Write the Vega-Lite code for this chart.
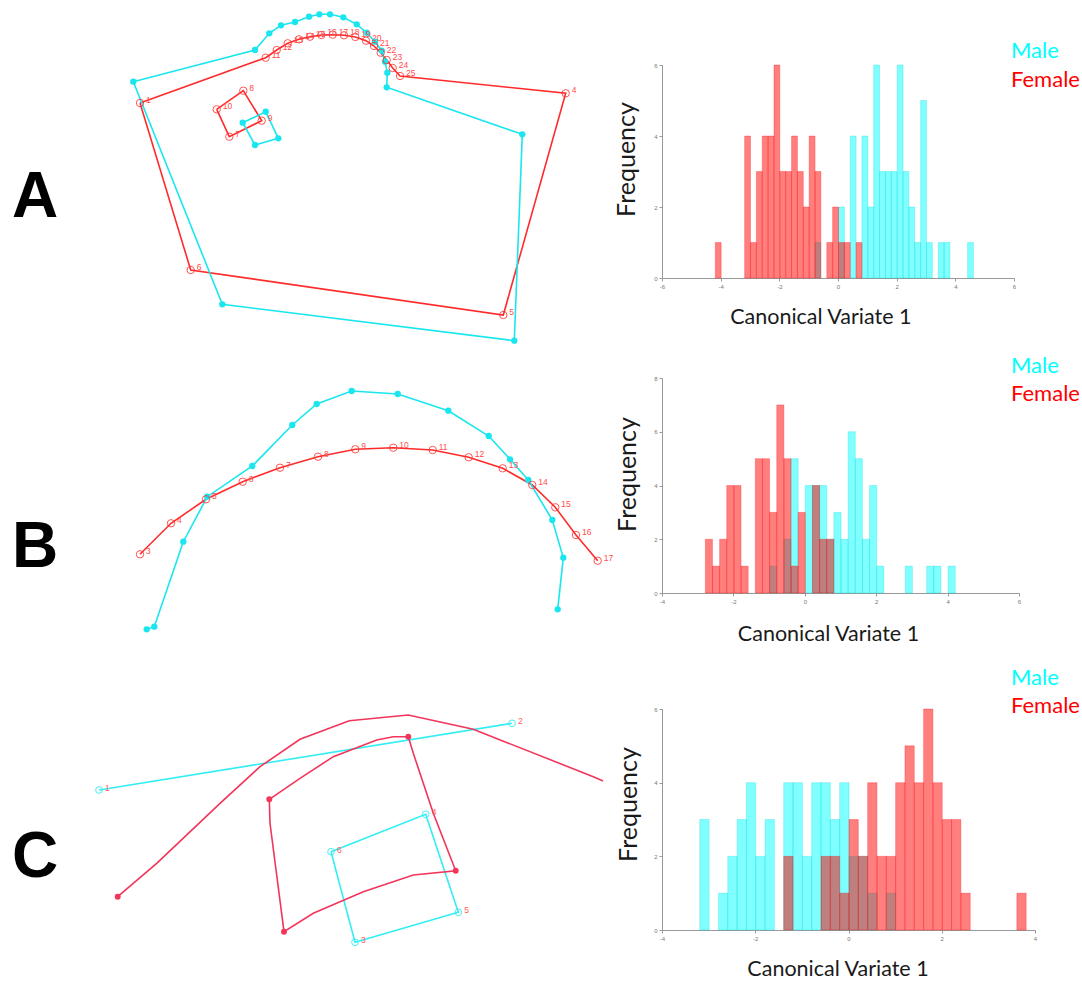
{
  "$schema": "https://vega.github.io/schema/vega-lite/v6.json",
  "background": "white",
  "padding": {"left": 0, "top": 11, "right": 0, "bottom": 0},
  "config": {"view": {"stroke": null}, "axis": {"labelFont": "Liberation Sans"}},
  "datasets": {
    "shapes": [
      {"p":"A","s":"Female","g":"Fo","o":1,"x":140,"y":103,"lm":true,"lab":"1"},
      {"p":"A","s":"Female","g":"Fo","o":2,"x":265.7,"y":57.7,"lm":true,"lab":"11"},
      {"p":"A","s":"Female","g":"Fo","o":3,"x":276.7,"y":50,"lm":true,"lab":"12"},
      {"p":"A","s":"Female","g":"Fo","o":4,"x":287.7,"y":43.3,"lm":true,"lab":"13"},
      {"p":"A","s":"Female","g":"Fo","o":5,"x":299,"y":39.3,"lm":true,"lab":"14"},
      {"p":"A","s":"Female","g":"Fo","o":6,"x":310,"y":36.7,"lm":true,"lab":"15"},
      {"p":"A","s":"Female","g":"Fo","o":7,"x":321.3,"y":35,"lm":true,"lab":"16"},
      {"p":"A","s":"Female","g":"Fo","o":8,"x":332.7,"y":34.7,"lm":true,"lab":"17"},
      {"p":"A","s":"Female","g":"Fo","o":9,"x":344,"y":35.3,"lm":true,"lab":"18"},
      {"p":"A","s":"Female","g":"Fo","o":10,"x":355.3,"y":37,"lm":true,"lab":"19"},
      {"p":"A","s":"Female","g":"Fo","o":11,"x":366,"y":40.7,"lm":true,"lab":"20"},
      {"p":"A","s":"Female","g":"Fo","o":12,"x":374,"y":46,"lm":true,"lab":"21"},
      {"p":"A","s":"Female","g":"Fo","o":13,"x":380.7,"y":52.7,"lm":true,"lab":"22"},
      {"p":"A","s":"Female","g":"Fo","o":14,"x":386.7,"y":60,"lm":true,"lab":"23"},
      {"p":"A","s":"Female","g":"Fo","o":15,"x":392.7,"y":68,"lm":true,"lab":"24"},
      {"p":"A","s":"Female","g":"Fo","o":16,"x":400,"y":76,"lm":true,"lab":"25"},
      {"p":"A","s":"Female","g":"Fo","o":17,"x":565.7,"y":93.3,"lm":true,"lab":"4"},
      {"p":"A","s":"Female","g":"Fo","o":18,"x":503.3,"y":315,"lm":true,"lab":"5"},
      {"p":"A","s":"Female","g":"Fo","o":19,"x":190.7,"y":270,"lm":true,"lab":"6"},
      {"p":"A","s":"Female","g":"Fo","o":20,"x":140,"y":103,"lm":false,"lab":null},
      {"p":"A","s":"Female","g":"Fi","o":1,"x":216.7,"y":109.3,"lm":true,"lab":"10"},
      {"p":"A","s":"Female","g":"Fi","o":2,"x":243.3,"y":90.7,"lm":true,"lab":"8"},
      {"p":"A","s":"Female","g":"Fi","o":3,"x":261.7,"y":120.7,"lm":true,"lab":"9"},
      {"p":"A","s":"Female","g":"Fi","o":4,"x":229.3,"y":136.7,"lm":true,"lab":"7"},
      {"p":"A","s":"Female","g":"Fi","o":5,"x":216.7,"y":109.3,"lm":false,"lab":null},
      {"p":"A","s":"Male","g":"Mo","o":1,"x":133.3,"y":81.7,"lm":true,"lab":null},
      {"p":"A","s":"Male","g":"Mo","o":2,"x":255,"y":50,"lm":true,"lab":null},
      {"p":"A","s":"Male","g":"Mo","o":3,"x":269.3,"y":33.3,"lm":true,"lab":null},
      {"p":"A","s":"Male","g":"Mo","o":4,"x":281,"y":25.3,"lm":true,"lab":null},
      {"p":"A","s":"Male","g":"Mo","o":5,"x":295,"y":22,"lm":true,"lab":null},
      {"p":"A","s":"Male","g":"Mo","o":6,"x":309,"y":16.7,"lm":true,"lab":null},
      {"p":"A","s":"Male","g":"Mo","o":7,"x":319.3,"y":14.3,"lm":true,"lab":null},
      {"p":"A","s":"Male","g":"Mo","o":8,"x":330,"y":14.3,"lm":true,"lab":null},
      {"p":"A","s":"Male","g":"Mo","o":9,"x":343.3,"y":17.3,"lm":true,"lab":null},
      {"p":"A","s":"Male","g":"Mo","o":10,"x":356.7,"y":24.3,"lm":true,"lab":null},
      {"p":"A","s":"Male","g":"Mo","o":11,"x":366.7,"y":32.7,"lm":true,"lab":null},
      {"p":"A","s":"Male","g":"Mo","o":12,"x":375,"y":41.7,"lm":true,"lab":null},
      {"p":"A","s":"Male","g":"Mo","o":13,"x":381.7,"y":50.7,"lm":true,"lab":null},
      {"p":"A","s":"Male","g":"Mo","o":14,"x":385,"y":61.7,"lm":true,"lab":null},
      {"p":"A","s":"Male","g":"Mo","o":15,"x":387.3,"y":72.7,"lm":true,"lab":null},
      {"p":"A","s":"Male","g":"Mo","o":16,"x":386.7,"y":87.3,"lm":true,"lab":null},
      {"p":"A","s":"Male","g":"Mo","o":17,"x":522.3,"y":134.3,"lm":true,"lab":null},
      {"p":"A","s":"Male","g":"Mo","o":18,"x":514.3,"y":340.7,"lm":true,"lab":null},
      {"p":"A","s":"Male","g":"Mo","o":19,"x":222.3,"y":304.3,"lm":true,"lab":null},
      {"p":"A","s":"Male","g":"Mo","o":20,"x":133.3,"y":81.7,"lm":false,"lab":null},
      {"p":"A","s":"Male","g":"Mi","o":1,"x":242.7,"y":122.7,"lm":true,"lab":null},
      {"p":"A","s":"Male","g":"Mi","o":2,"x":265.7,"y":111.7,"lm":true,"lab":null},
      {"p":"A","s":"Male","g":"Mi","o":3,"x":278.3,"y":138.3,"lm":true,"lab":null},
      {"p":"A","s":"Male","g":"Mi","o":4,"x":255,"y":145,"lm":true,"lab":null},
      {"p":"A","s":"Male","g":"Mi","o":5,"x":242.7,"y":122.7,"lm":false,"lab":null},

      {"p":"B","s":"Female","g":"F","o":1,"x":140,"y":554.3,"lm":true,"lab":"3"},
      {"p":"B","s":"Female","g":"F","o":2,"x":171,"y":523.3,"lm":true,"lab":"4"},
      {"p":"B","s":"Female","g":"F","o":3,"x":206,"y":499.3,"lm":true,"lab":"5"},
      {"p":"B","s":"Female","g":"F","o":4,"x":242.7,"y":481.7,"lm":true,"lab":"6"},
      {"p":"B","s":"Female","g":"F","o":5,"x":280,"y":467.7,"lm":true,"lab":"7"},
      {"p":"B","s":"Female","g":"F","o":6,"x":318,"y":456.7,"lm":true,"lab":"8"},
      {"p":"B","s":"Female","g":"F","o":7,"x":355.3,"y":449.3,"lm":true,"lab":"9"},
      {"p":"B","s":"Female","g":"F","o":8,"x":393.3,"y":447.7,"lm":true,"lab":"10"},
      {"p":"B","s":"Female","g":"F","o":9,"x":432.7,"y":450,"lm":true,"lab":"11"},
      {"p":"B","s":"Female","g":"F","o":10,"x":468.7,"y":457.3,"lm":true,"lab":"12"},
      {"p":"B","s":"Female","g":"F","o":11,"x":502.7,"y":468.3,"lm":true,"lab":"13"},
      {"p":"B","s":"Female","g":"F","o":12,"x":532.3,"y":485,"lm":true,"lab":"14"},
      {"p":"B","s":"Female","g":"F","o":13,"x":555.3,"y":507.3,"lm":true,"lab":"15"},
      {"p":"B","s":"Female","g":"F","o":14,"x":576,"y":535,"lm":true,"lab":"16"},
      {"p":"B","s":"Female","g":"F","o":15,"x":597.7,"y":560.7,"lm":true,"lab":"17"},
      {"p":"B","s":"Male","g":"M","o":1,"x":146.7,"y":629.3,"lm":true,"lab":null},
      {"p":"B","s":"Male","g":"M","o":2,"x":154.3,"y":626.7,"lm":true,"lab":null},
      {"p":"B","s":"Male","g":"M","o":3,"x":183.3,"y":541.7,"lm":true,"lab":null},
      {"p":"B","s":"Male","g":"M","o":4,"x":207.3,"y":496.7,"lm":true,"lab":null},
      {"p":"B","s":"Male","g":"M","o":5,"x":252.3,"y":466,"lm":true,"lab":null},
      {"p":"B","s":"Male","g":"M","o":6,"x":292.3,"y":425,"lm":true,"lab":null},
      {"p":"B","s":"Male","g":"M","o":7,"x":316.7,"y":404,"lm":true,"lab":null},
      {"p":"B","s":"Male","g":"M","o":8,"x":351.7,"y":391,"lm":true,"lab":null},
      {"p":"B","s":"Male","g":"M","o":9,"x":397.7,"y":394,"lm":true,"lab":null},
      {"p":"B","s":"Male","g":"M","o":10,"x":448.3,"y":410.7,"lm":true,"lab":null},
      {"p":"B","s":"Male","g":"M","o":11,"x":488.7,"y":436,"lm":true,"lab":null},
      {"p":"B","s":"Male","g":"M","o":12,"x":510,"y":459.3,"lm":true,"lab":null},
      {"p":"B","s":"Male","g":"M","o":13,"x":528.3,"y":480,"lm":true,"lab":null},
      {"p":"B","s":"Male","g":"M","o":14,"x":552.3,"y":520,"lm":true,"lab":null},
      {"p":"B","s":"Male","g":"M","o":15,"x":563.3,"y":557.7,"lm":true,"lab":null},
      {"p":"B","s":"Male","g":"M","o":16,"x":557.7,"y":609.3,"lm":true,"lab":null},

      {"p":"C","s":"Male","g":"M1","o":1,"x":99,"y":790,"lm":true,"lab":"1"},
      {"p":"C","s":"Male","g":"M1","o":2,"x":512,"y":723.3,"lm":true,"lab":"2"},
      {"p":"C","s":"Male","g":"M2","o":1,"x":331,"y":851.7,"lm":true,"lab":"6"},
      {"p":"C","s":"Male","g":"M2","o":2,"x":425.7,"y":814.3,"lm":true,"lab":"4"},
      {"p":"C","s":"Male","g":"M2","o":3,"x":458.3,"y":912.3,"lm":true,"lab":"5"},
      {"p":"C","s":"Male","g":"M2","o":4,"x":355,"y":942.3,"lm":true,"lab":"3"},
      {"p":"C","s":"Male","g":"M2","o":5,"x":331,"y":851.7,"lm":false,"lab":null},
      {"p":"C","s":"Female","g":"F1","o":1,"x":117.7,"y":896.7,"lm":true,"lab":null},
      {"p":"C","s":"Female","g":"F1","o":2,"x":156.7,"y":863.3,"lm":false,"lab":null},
      {"p":"C","s":"Female","g":"F1","o":3,"x":220,"y":803.3,"lm":false,"lab":null},
      {"p":"C","s":"Female","g":"F1","o":4,"x":260,"y":766.7,"lm":false,"lab":null},
      {"p":"C","s":"Female","g":"F1","o":5,"x":300,"y":739.3,"lm":false,"lab":null},
      {"p":"C","s":"Female","g":"F1","o":6,"x":349.3,"y":720.7,"lm":false,"lab":null},
      {"p":"C","s":"Female","g":"F1","o":7,"x":408.3,"y":715,"lm":false,"lab":null},
      {"p":"C","s":"Female","g":"F1","o":8,"x":473.3,"y":729.3,"lm":false,"lab":null},
      {"p":"C","s":"Female","g":"F1","o":9,"x":593.3,"y":776.7,"lm":false,"lab":null},
      {"p":"C","s":"Female","g":"F1","o":10,"x":603,"y":781,"lm":false,"lab":null},
      {"p":"C","s":"Female","g":"F2","o":1,"x":269.3,"y":799.3,"lm":true,"lab":null},
      {"p":"C","s":"Female","g":"F2","o":2,"x":300,"y":778.3,"lm":false,"lab":null},
      {"p":"C","s":"Female","g":"F2","o":3,"x":333.3,"y":756.7,"lm":false,"lab":null},
      {"p":"C","s":"Female","g":"F2","o":4,"x":376.7,"y":740,"lm":false,"lab":null},
      {"p":"C","s":"Female","g":"F2","o":5,"x":393.3,"y":736.7,"lm":false,"lab":null},
      {"p":"C","s":"Female","g":"F2","o":6,"x":408.3,"y":736.7,"lm":true,"lab":null},
      {"p":"C","s":"Female","g":"F2","o":7,"x":413.3,"y":753.3,"lm":false,"lab":null},
      {"p":"C","s":"Female","g":"F2","o":8,"x":433.3,"y":813.3,"lm":false,"lab":null},
      {"p":"C","s":"Female","g":"F2","o":9,"x":455.7,"y":870.7,"lm":true,"lab":null},
      {"p":"C","s":"Female","g":"F2","o":10,"x":413.3,"y":875,"lm":false,"lab":null},
      {"p":"C","s":"Female","g":"F2","o":11,"x":363.3,"y":891.7,"lm":false,"lab":null},
      {"p":"C","s":"Female","g":"F2","o":12,"x":313.3,"y":913.3,"lm":false,"lab":null},
      {"p":"C","s":"Female","g":"F2","o":13,"x":284,"y":931.7,"lm":true,"lab":null},
      {"p":"C","s":"Female","g":"F2","o":14,"x":270,"y":823.3,"lm":false,"lab":null},
      {"p":"C","s":"Female","g":"F2","o":15,"x":269.3,"y":799.3,"lm":false,"lab":null}
    ],
    "hist": [
      {"p":"A","s":"Male","b":-0.8,"n":1},{"p":"A","s":"Male","b":0,"n":2},{"p":"A","s":"Male","b":0.4,"n":4},{"p":"A","s":"Male","b":0.8,"n":4},{"p":"A","s":"Male","b":1.0,"n":2},{"p":"A","s":"Male","b":1.2,"n":6},{"p":"A","s":"Male","b":1.4,"n":3},{"p":"A","s":"Male","b":1.6,"n":3},{"p":"A","s":"Male","b":1.8,"n":3},{"p":"A","s":"Male","b":2.0,"n":6},{"p":"A","s":"Male","b":2.2,"n":3},{"p":"A","s":"Male","b":2.4,"n":2},{"p":"A","s":"Male","b":2.6,"n":1},{"p":"A","s":"Male","b":2.8,"n":5},{"p":"A","s":"Male","b":3.0,"n":1},{"p":"A","s":"Male","b":3.4,"n":1},{"p":"A","s":"Male","b":3.6,"n":1},{"p":"A","s":"Male","b":4.4,"n":1},
      {"p":"A","s":"Female","b":-4.2,"n":1},{"p":"A","s":"Female","b":-3.2,"n":4},{"p":"A","s":"Female","b":-3.0,"n":1},{"p":"A","s":"Female","b":-2.8,"n":3},{"p":"A","s":"Female","b":-2.6,"n":4},{"p":"A","s":"Female","b":-2.4,"n":4},{"p":"A","s":"Female","b":-2.2,"n":6},{"p":"A","s":"Female","b":-2.0,"n":3},{"p":"A","s":"Female","b":-1.8,"n":3},{"p":"A","s":"Female","b":-1.6,"n":4},{"p":"A","s":"Female","b":-1.4,"n":3},{"p":"A","s":"Female","b":-1.2,"n":2},{"p":"A","s":"Female","b":-1.0,"n":4},{"p":"A","s":"Female","b":-0.8,"n":3},{"p":"A","s":"Female","b":-0.4,"n":1},{"p":"A","s":"Female","b":-0.2,"n":2},{"p":"A","s":"Female","b":0,"n":1},{"p":"A","s":"Female","b":0.2,"n":1},{"p":"A","s":"Female","b":0.6,"n":1},
      {"p":"B","s":"Male","b":-1.0,"n":1},{"p":"B","s":"Male","b":-0.6,"n":2},{"p":"B","s":"Male","b":-0.4,"n":5},{"p":"B","s":"Male","b":0,"n":4},{"p":"B","s":"Male","b":0.2,"n":4},{"p":"B","s":"Male","b":0.4,"n":4},{"p":"B","s":"Male","b":0.6,"n":2},{"p":"B","s":"Male","b":0.8,"n":3},{"p":"B","s":"Male","b":1.0,"n":2},{"p":"B","s":"Male","b":1.2,"n":6},{"p":"B","s":"Male","b":1.4,"n":5},{"p":"B","s":"Male","b":1.6,"n":2},{"p":"B","s":"Male","b":1.8,"n":4},{"p":"B","s":"Male","b":2.0,"n":1},{"p":"B","s":"Male","b":2.8,"n":1},{"p":"B","s":"Male","b":3.4,"n":1},{"p":"B","s":"Male","b":3.6,"n":1},{"p":"B","s":"Male","b":4.0,"n":1},
      {"p":"B","s":"Female","b":-2.8,"n":2},{"p":"B","s":"Female","b":-2.6,"n":1},{"p":"B","s":"Female","b":-2.4,"n":2},{"p":"B","s":"Female","b":-2.2,"n":4},{"p":"B","s":"Female","b":-2.0,"n":4},{"p":"B","s":"Female","b":-1.8,"n":1},{"p":"B","s":"Female","b":-1.4,"n":5},{"p":"B","s":"Female","b":-1.2,"n":5},{"p":"B","s":"Female","b":-1.0,"n":3},{"p":"B","s":"Female","b":-0.8,"n":7},{"p":"B","s":"Female","b":-0.6,"n":5},{"p":"B","s":"Female","b":-0.4,"n":1},{"p":"B","s":"Female","b":-0.2,"n":3},{"p":"B","s":"Female","b":0.2,"n":4},{"p":"B","s":"Female","b":0.4,"n":2},{"p":"B","s":"Female","b":0.6,"n":2},
      {"p":"C","s":"Male","b":-3.2,"n":3},{"p":"C","s":"Male","b":-2.8,"n":1},{"p":"C","s":"Male","b":-2.6,"n":2},{"p":"C","s":"Male","b":-2.4,"n":3},{"p":"C","s":"Male","b":-2.2,"n":4},{"p":"C","s":"Male","b":-2.0,"n":2},{"p":"C","s":"Male","b":-1.8,"n":3},{"p":"C","s":"Male","b":-1.4,"n":4},{"p":"C","s":"Male","b":-1.2,"n":4},{"p":"C","s":"Male","b":-1.0,"n":2},{"p":"C","s":"Male","b":-0.8,"n":4},{"p":"C","s":"Male","b":-0.6,"n":4},{"p":"C","s":"Male","b":-0.4,"n":3},{"p":"C","s":"Male","b":-0.2,"n":4},{"p":"C","s":"Male","b":0,"n":2},{"p":"C","s":"Male","b":0.2,"n":2},{"p":"C","s":"Male","b":0.4,"n":1},{"p":"C","s":"Male","b":0.8,"n":1},
      {"p":"C","s":"Female","b":-1.4,"n":2},{"p":"C","s":"Female","b":-0.6,"n":2},{"p":"C","s":"Female","b":-0.4,"n":2},{"p":"C","s":"Female","b":-0.2,"n":1},{"p":"C","s":"Female","b":0,"n":3},{"p":"C","s":"Female","b":0.2,"n":2},{"p":"C","s":"Female","b":0.4,"n":4},{"p":"C","s":"Female","b":0.6,"n":2},{"p":"C","s":"Female","b":0.8,"n":2},{"p":"C","s":"Female","b":1.0,"n":4},{"p":"C","s":"Female","b":1.2,"n":5},{"p":"C","s":"Female","b":1.4,"n":4},{"p":"C","s":"Female","b":1.6,"n":6},{"p":"C","s":"Female","b":1.8,"n":4},{"p":"C","s":"Female","b":2.0,"n":3},{"p":"C","s":"Female","b":2.2,"n":3},{"p":"C","s":"Female","b":2.4,"n":1},{"p":"C","s":"Female","b":3.6,"n":1}
    ]
  },
  "columns": 3,
  "align": "each",
  "bounds": "flush",
  "spacing": 0,
  "resolve": {"scale": {"color": "independent", "stroke": "independent"}, "legend": {"color": "independent"}},
  "concat": [
    {
      "width": 70, "height": 313,
      "data": {"values": [{"panel": "A"}]},
      "mark": {"type": "text", "align": "center", "baseline": "middle", "dy": -23.5, "fontSize": 64, "font": "Liberation Sans", "fontWeight": "bold", "color": "#000000"},
      "encoding": {"text": {"field": "panel"}}
    },
    {
      "width": 592, "height": 313,
      "data": {"name": "shapes"},
      "transform": [{"filter": "datum.p == 'A'"}],
      "encoding": {
        "x": {"field": "x", "type": "quantitative", "scale": {"domain": [70, 662], "nice": false, "zero": false}, "axis": null},
        "y": {"field": "y", "type": "quantitative", "scale": {"domain": [65, 378], "nice": false, "zero": false, "reverse": true}, "axis": null}
      },
      "layer": [
        {"mark": {"type": "line", "strokeWidth": 1.6}, "encoding": {"color": {"field": "s", "type": "nominal", "scale": {"domain": ["Male", "Female"], "range": ["#19e6ef", "#ff2b2b"]}, "legend": null}, "detail": {"field": "g"}, "order": {"field": "o"}}},
        {"transform": [{"filter": "datum.lm && datum.s == 'Male'"}], "mark": {"type": "point", "filled": true, "size": 40, "opacity": 1}, "encoding": {"color": {"field": "s", "type": "nominal", "scale": {"domain": ["Male", "Female"], "range": ["#19e6ef", "#ff2b2b"]}, "legend": null}}},
        {"transform": [{"filter": "datum.lm && datum.s == 'Female'"}], "mark": {"type": "point", "filled": false, "size": 55, "strokeWidth": 1, "opacity": 0.8}, "encoding": {"color": {"field": "s", "type": "nominal", "scale": {"domain": ["Male", "Female"], "range": ["#19e6ef", "#ff2b2b"]}, "legend": null}}},
        {"transform": [{"filter": "datum.lab != null"}], "mark": {"type": "text", "align": "left", "baseline": "middle", "dx": 6, "dy": -3, "fontSize": 8.5, "font": "Liberation Sans", "color": "#ff4d4d"}, "encoding": {"text": {"field": "lab"}}}
      ]
    },
    {
      "width": 352, "height": 213,
      "data": {"name": "hist"},
      "transform": [{"filter": "datum.p == 'A'"}],
      "mark": {"type": "bar", "fillOpacity": 0.5, "strokeWidth": 0.8, "strokeOpacity": 0.35, "binSpacing": 0},
      "encoding": {
        "x": {"field": "b", "type": "quantitative", "bin": {"binned": true, "step": 0.2}, "scale": {"domain": [-6, 6], "nice": false, "zero": false},
              "axis": {"values": [-6, -4, -2, 0, 2, 4, 6], "labelExpr": "'' + datum.value", "title": "Canonical Variate 1", "titleFont": "Lato", "titleFontSize": 21.5, "titleFontWeight": "normal", "titleColor": "#1a1a1a", "titlePadding": 17, "titleX": 158.3, "labelFontSize": 6, "labelColor": "#777777", "labelPadding": 2, "tickSize": 3, "tickColor": "#999999", "domainColor": "#999999", "grid": false, "labelFlush": false}},
        "y": {"field": "n", "type": "quantitative", "stack": null, "scale": {"domain": [0, 6], "nice": false},
              "axis": {"values": [0, 2, 4, 6], "title": "Frequency", "titleFont": "Lato", "titleFontSize": 25, "titleFontWeight": "normal", "titleColor": "#1a1a1a", "titlePadding": 14, "titleY": 94, "labelFontSize": 6, "labelColor": "#777777", "labelPadding": 2, "tickSize": 3, "tickColor": "#999999", "domainColor": "#999999", "grid": false}},
        "color": {"field": "s", "type": "nominal", "scale": {"domain": ["Male", "Female"], "range": ["#00ffff", "#ff0000"]},
                  "legend": {"orient": "none", "legendX": 327, "legendY": -25, "title": null, "direction": "vertical", "symbolSize": 0, "symbolOpacity": 0, "symbolStrokeWidth": 0, "labelOffset": 0, "labelFont": "Lato", "labelFontSize": 22, "labelColor": {"expr": "datum.value === 'Male' ? '#00ffff' : '#ff0000'"}, "rowPadding": 7, "padding": 0, "offset": 0}},
        "stroke": {"field": "s", "type": "nominal", "scale": {"domain": ["Male", "Female"], "range": ["#00d8d8", "#ff0000"]}, "legend": null}
      }
    },
    {
      "width": 70, "height": 331,
      "data": {"values": [{"panel": "B"}]},
      "mark": {"type": "text", "align": "center", "baseline": "middle", "dy": 4.5, "fontSize": 64, "font": "Liberation Sans", "fontWeight": "bold", "color": "#000000"},
      "encoding": {"text": {"field": "panel"}}
    },
    {
      "width": 592, "height": 331,
      "data": {"name": "shapes"},
      "transform": [{"filter": "datum.p == 'B'"}],
      "encoding": {
        "x": {"field": "x", "type": "quantitative", "scale": {"domain": [70, 662], "nice": false, "zero": false}, "axis": null},
        "y": {"field": "y", "type": "quantitative", "scale": {"domain": [378, 709], "nice": false, "zero": false, "reverse": true}, "axis": null}
      },
      "layer": [
        {"mark": {"type": "line", "strokeWidth": 1.6}, "encoding": {"color": {"field": "s", "type": "nominal", "scale": {"domain": ["Male", "Female"], "range": ["#19e6ef", "#ff2b2b"]}, "legend": null}, "detail": {"field": "g"}, "order": {"field": "o"}}},
        {"transform": [{"filter": "datum.lm && datum.s == 'Male'"}], "mark": {"type": "point", "filled": true, "size": 40, "opacity": 1}, "encoding": {"color": {"field": "s", "type": "nominal", "scale": {"domain": ["Male", "Female"], "range": ["#19e6ef", "#ff2b2b"]}, "legend": null}}},
        {"transform": [{"filter": "datum.lm && datum.s == 'Female'"}], "mark": {"type": "point", "filled": false, "size": 55, "strokeWidth": 1, "opacity": 0.8}, "encoding": {"color": {"field": "s", "type": "nominal", "scale": {"domain": ["Male", "Female"], "range": ["#19e6ef", "#ff2b2b"]}, "legend": null}}},
        {"transform": [{"filter": "datum.lab != null"}], "mark": {"type": "text", "align": "left", "baseline": "middle", "dx": 6, "dy": -3, "fontSize": 8.5, "font": "Liberation Sans", "color": "#ff4d4d"}, "encoding": {"text": {"field": "lab"}}}
      ]
    },
    {
      "width": 357, "height": 215,
      "data": {"name": "hist"},
      "transform": [{"filter": "datum.p == 'B'"}],
      "mark": {"type": "bar", "fillOpacity": 0.5, "strokeWidth": 0.8, "strokeOpacity": 0.35, "binSpacing": 0},
      "encoding": {
        "x": {"field": "b", "type": "quantitative", "bin": {"binned": true, "step": 0.2}, "scale": {"domain": [-4, 6], "nice": false, "zero": false},
              "axis": {"values": [-4, -2, 0, 2, 4, 6], "labelExpr": "'' + datum.value", "title": "Canonical Variate 1", "titleFont": "Lato", "titleFontSize": 21.5, "titleFontWeight": "normal", "titleColor": "#1a1a1a", "titlePadding": 19.5, "titleX": 166, "labelFontSize": 6, "labelColor": "#777777", "labelPadding": 2, "tickSize": 3, "tickColor": "#999999", "domainColor": "#999999", "grid": false, "labelFlush": false}},
        "y": {"field": "n", "type": "quantitative", "stack": null, "scale": {"domain": [0, 8], "nice": false},
              "axis": {"values": [0, 2, 4, 6, 8], "title": "Frequency", "titleFont": "Lato", "titleFontSize": 25, "titleFontWeight": "normal", "titleColor": "#1a1a1a", "titlePadding": 13.5, "titleY": 96, "labelFontSize": 6, "labelColor": "#777777", "labelPadding": 2, "tickSize": 3, "tickColor": "#999999", "domainColor": "#999999", "grid": false}},
        "color": {"field": "s", "type": "nominal", "scale": {"domain": ["Male", "Female"], "range": ["#00ffff", "#ff0000"]},
                  "legend": {"orient": "none", "legendX": 327, "legendY": -23, "title": null, "direction": "vertical", "symbolSize": 0, "symbolOpacity": 0, "symbolStrokeWidth": 0, "labelOffset": 0, "labelFont": "Lato", "labelFontSize": 22, "labelColor": {"expr": "datum.value === 'Male' ? '#00ffff' : '#ff0000'"}, "rowPadding": 6, "padding": 0, "offset": 0}},
        "stroke": {"field": "s", "type": "nominal", "scale": {"domain": ["Male", "Female"], "range": ["#00d8d8", "#ff0000"]}, "legend": null}
      }
    },
    {
      "width": 70, "height": 221,
      "data": {"values": [{"panel": "C"}]},
      "mark": {"type": "text", "align": "center", "baseline": "middle", "dy": 38.5, "fontSize": 64, "font": "Liberation Sans", "fontWeight": "bold", "color": "#000000"},
      "encoding": {"text": {"field": "panel"}}
    },
    {
      "width": 592, "height": 221,
      "data": {"name": "shapes"},
      "transform": [{"filter": "datum.p == 'C'"}],
      "encoding": {
        "x": {"field": "x", "type": "quantitative", "scale": {"domain": [70, 662], "nice": false, "zero": false}, "axis": null},
        "y": {"field": "y", "type": "quantitative", "scale": {"domain": [709, 930], "nice": false, "zero": false, "reverse": true}, "axis": null}
      },
      "layer": [
        {"mark": {"type": "line", "strokeWidth": 1.6}, "encoding": {"color": {"field": "s", "type": "nominal", "scale": {"domain": ["Male", "Female"], "range": ["#33eef4", "#f2355a"]}, "legend": null}, "detail": {"field": "g"}, "order": {"field": "o"}}},
        {"transform": [{"filter": "datum.lm && datum.s == 'Female'"}], "mark": {"type": "point", "filled": true, "size": 35, "opacity": 1}, "encoding": {"color": {"field": "s", "type": "nominal", "scale": {"domain": ["Male", "Female"], "range": ["#33eef4", "#e8002d"]}, "legend": null}}},
        {"transform": [{"filter": "datum.lm && datum.s == 'Male'"}], "mark": {"type": "point", "filled": false, "size": 45, "strokeWidth": 1, "opacity": 0.9}, "encoding": {"color": {"field": "s", "type": "nominal", "scale": {"domain": ["Male", "Female"], "range": ["#33eef4", "#e8002d"]}, "legend": null}}},
        {"transform": [{"filter": "datum.lab != null"}], "mark": {"type": "text", "align": "left", "baseline": "middle", "dx": 6, "dy": -2, "fontSize": 8.5, "font": "Liberation Sans", "color": "#ff5a5a"}, "encoding": {"text": {"field": "lab"}}}
      ]
    },
    {
      "width": 373, "height": 221,
      "data": {"name": "hist"},
      "transform": [{"filter": "datum.p == 'C'"}],
      "mark": {"type": "bar", "fillOpacity": 0.5, "strokeWidth": 0.8, "strokeOpacity": 0.35, "binSpacing": 0},
      "encoding": {
        "x": {"field": "b", "type": "quantitative", "bin": {"binned": true, "step": 0.2}, "scale": {"domain": [-4, 4], "nice": false, "zero": false},
              "axis": {"values": [-4, -2, 0, 2, 4], "labelExpr": "'' + datum.value", "title": "Canonical Variate 1", "titleFont": "Lato", "titleFontSize": 21.5, "titleFontWeight": "normal", "titleColor": "#1a1a1a", "titlePadding": 17.5, "titleX": 175.5, "labelFontSize": 6, "labelColor": "#777777", "labelPadding": 2, "tickSize": 3, "tickColor": "#999999", "domainColor": "#999999", "grid": false, "labelFlush": false}},
        "y": {"field": "n", "type": "quantitative", "stack": null, "scale": {"domain": [0, 6], "nice": false},
              "axis": {"values": [0, 2, 4, 6], "title": "Frequency", "titleFont": "Lato", "titleFontSize": 25, "titleFontWeight": "normal", "titleColor": "#1a1a1a", "titlePadding": 12.5, "titleY": 95, "labelFontSize": 6, "labelColor": "#777777", "labelPadding": 2, "tickSize": 3, "tickColor": "#999999", "domainColor": "#999999", "grid": false}},
        "color": {"field": "s", "type": "nominal", "scale": {"domain": ["Male", "Female"], "range": ["#00ffff", "#ff0000"]},
                  "legend": {"orient": "none", "legendX": 327, "legendY": -42.5, "title": null, "direction": "vertical", "symbolSize": 0, "symbolOpacity": 0, "symbolStrokeWidth": 0, "labelOffset": 0, "labelFont": "Lato", "labelFontSize": 22, "labelColor": {"expr": "datum.value === 'Male' ? '#00ffff' : '#ff0000'"}, "rowPadding": 6, "padding": 0, "offset": 0}},
        "stroke": {"field": "s", "type": "nominal", "scale": {"domain": ["Male", "Female"], "range": ["#00d8d8", "#ff0000"]}, "legend": null}
      }
    }
  ]
}
